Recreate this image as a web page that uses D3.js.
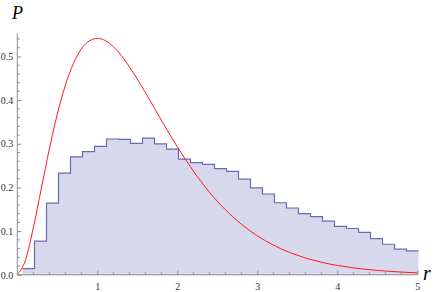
<!DOCTYPE html>
<html>
<head>
<meta charset="utf-8">
<script src="https://cdn.jsdelivr.net/npm/d3@7"></script>
<style>
html,body{margin:0;padding:0;background:#fff;}
svg{display:block;}
svg text{font-family:'Liberation Serif','Times New Roman',serif;}
</style>
</head>
<body>
<svg id="chart" width="436" height="292"></svg>
<script>
// Histogram: bin start, bin width, bar heights
const binStart = 0.065;
const binWidth = 0.15;
const histValues = [0.014, 0.077, 0.164, 0.233, 0.270, 0.282, 0.294, 0.311, 0.310, 0.301,
  0.313, 0.300, 0.288, 0.265, 0.257, 0.253, 0.243, 0.237, 0.219, 0.199,
  0.185, 0.165, 0.153, 0.140, 0.133, 0.123, 0.111, 0.106, 0.097, 0.083,
  0.070, 0.059, 0.055];

// Red curve sample points
const curveR = [0,0.1,0.2,0.3,0.4,0.5,0.6,0.7,0.8,0.9,1.0,1.1,1.2,1.3,1.4,1.5,1.6,1.7,1.8,1.9,
  2.0,2.1,2.2,2.3,2.4,2.5,2.6,2.7,2.8,2.9,3.0,3.1,3.2,3.3,3.4,3.5,3.6,3.7,3.8,3.9,4.0,4.2,4.4,4.6,4.8,5.0];
const curveP = [0,0.0327,0.1073,0.1976,0.2876,0.3679,0.4337,0.4833,0.5169,0.5356,0.5413,0.5363,0.5225,0.5021,0.4767,0.4481,0.4176,0.3861,0.3543,0.3230,
  0.2931,0.2646,0.2378,0.2127,0.1896,0.1684,0.1492,0.1317,0.1160,0.1019,0.0892,0.0780,0.0681,0.0592,0.0515,0.0447,0.0387,0.0335,0.0289,0.0249,0.0215,0.0159,0.0117,0.0086,0.0062,0.0045];

const xTicks = [1, 2, 3, 4, 5];
const yTicks = [0.0, 0.1, 0.2, 0.3, 0.4, 0.5];
const xLabel = "r";
const yLabel = "P";

const svg = d3.select("#chart");
const x = d3.scaleLinear().domain([0, 5]).range([17.3, 417.3]);
const y = d3.scaleLinear().domain([0, 0.553]).range([274.8, 33.3]);

// histogram
const histPts = histValues.map((v, i) => ({r: binStart + i * binWidth, v}));
histPts.push({r: binStart + histValues.length * binWidth, v: histValues[histValues.length - 1]});

svg.append("path")
  .datum(histPts)
  .attr("d", d3.area().x(d => x(d.r)).y0(y(0)).y1(d => y(d.v)).curve(d3.curveStepAfter))
  .attr("fill", "rgb(215,216,236)")
  .attr("stroke", "none");

svg.append("path")
  .datum(histPts)
  .attr("d", d3.line().x(d => x(d.r)).y(d => y(d.v)).curve(d3.curveStepAfter))
  .attr("fill", "none")
  .attr("stroke", "rgb(104,106,182)")
  .attr("stroke-width", 1.2);

// red curve
const curvePts = curveR.map((r, i) => ({r, p: curveP[i]}));
svg.append("path")
  .datum(curvePts)
  .attr("d", d3.line().x(d => x(d.r)).y(d => y(d.p)).curve(d3.curveMonotoneX))
  .attr("fill", "none")
  .attr("stroke", "#ff1a1a")
  .attr("stroke-width", 1);

const axisColor = "#8a8a8a";
const fontFam = "'Liberation Serif', 'Times New Roman', serif";

// x axis
const gx = svg.append("g").attr("transform", `translate(0,${y(0)})`)
  .call(d3.axisBottom(x).tickValues(xTicks).tickFormat(d3.format("d")).tickSize(-4).tickSizeOuter(0).tickPadding(8));
gx.attr("font-family", null);
gx.select(".domain").remove();
gx.append("line").attr("x1", x(0)).attr("x2", x(5)).attr("stroke", axisColor);
const xMinor = d3.range(0.2, 5.0, 0.2).filter(v => Math.abs(v - Math.round(v)) > 1e-6);
gx.selectAll(".minor").data(xMinor).enter().append("line")
  .attr("x1", d => x(d)).attr("x2", d => x(d)).attr("y1", 0).attr("y2", -2.5).attr("stroke", axisColor);
gx.selectAll(".tick line").attr("stroke", axisColor);
gx.selectAll(".tick text").style("font-family", fontFam).attr("font-size", 10).attr("fill", "#333");

// y axis
const gy = svg.append("g").attr("transform", `translate(${x(0)},0)`)
  .call(d3.axisLeft(y).tickValues(yTicks).tickFormat(d3.format(".1f")).tickSize(-4).tickSizeOuter(0).tickPadding(4));
gy.attr("font-family", null);
gy.select(".domain").remove();
gy.append("line").attr("y1", y(0)).attr("y2", y(0.553)).attr("stroke", axisColor);
const yMinor = d3.range(0.02, 0.55, 0.02).filter(v => Math.abs(v * 10 - Math.round(v * 10)) > 1e-6);
gy.selectAll(".minor").data(yMinor).enter().append("line")
  .attr("y1", d => y(d)).attr("y2", d => y(d)).attr("x1", 0).attr("x2", 2.5).attr("stroke", axisColor);
gy.selectAll(".tick line").attr("stroke", axisColor);
gy.selectAll(".tick text").style("font-family", fontFam).attr("font-size", 10).attr("fill", "#333");

// axis labels
svg.append("text").attr("x", 12).attr("y", 18.5).text(yLabel)
  .style("font-family", fontFam).attr("font-style", "italic").attr("font-size", 18).attr("fill", "#000");
svg.append("text").attr("x", 423).attr("y", 280).text(xLabel)
  .style("font-family", fontFam).attr("font-style", "italic").attr("font-size", 20).attr("fill", "#000");
</script>
</body>
</html>
